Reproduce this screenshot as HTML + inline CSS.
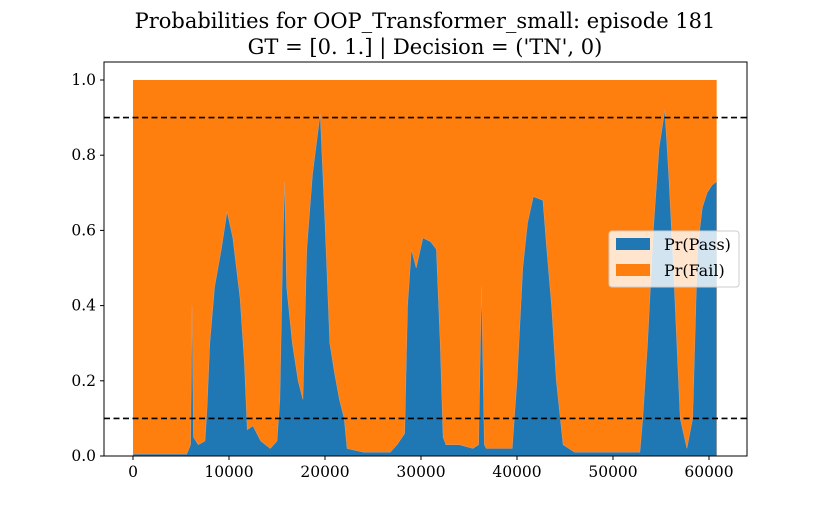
<!DOCTYPE html>
<html><head><meta charset="utf-8"><style>
html,body{margin:0;padding:0;background:#fff;}
svg text{font-family:"DejaVu Serif","Liberation Serif",serif;fill:#000;}
</style></head><body>
<svg id="chart" width="830" height="513" viewBox="0 0 830 513">
<text x="425" y="28" font-size="21" text-anchor="middle">Probabilities for OOP_Transformer_small: episode 181</text>
<text x="425" y="54" font-size="21" text-anchor="middle">GT = [0. 1.] | Decision = ('TN', 0)</text>
<g id="plot"></g>
</svg>
<script>
const steps = [0,5600,6000,6150,6300,6800,7500,7700,8000,8500,9200,9800,10400,11150,11600,11900,12500,13300,14300,15000,15300,15600,15800,16000,16600,17200,17700,18100,18700,19500,20000,20500,21000,21500,22000,22300,24000,26800,27500,28300,28600,29000,29500,30200,31000,31600,32000,32300,32600,34000,35400,36000,36300,36600,36800,38000,39500,40000,40600,41100,41700,42700,43100,43600,44100,44800,46000,50000,52800,53100,53600,54200,54800,55400,55800,56300,57000,57700,58300,58800,59300,59800,60300,60800];
const passProb = [0.005,0.005,0.03,0.40,0.05,0.03,0.04,0.12,0.30,0.45,0.55,0.65,0.58,0.42,0.25,0.07,0.08,0.04,0.02,0.04,0.15,0.55,0.73,0.45,0.30,0.20,0.15,0.55,0.75,0.91,0.62,0.30,0.22,0.15,0.10,0.02,0.01,0.01,0.03,0.06,0.40,0.55,0.50,0.58,0.57,0.55,0.30,0.05,0.03,0.03,0.02,0.03,0.45,0.03,0.02,0.02,0.02,0.2,0.5,0.62,0.69,0.68,0.55,0.40,0.2,0.03,0.01,0.01,0.01,0.1,0.3,0.6,0.82,0.92,0.75,0.5,0.1,0.02,0.1,0.55,0.66,0.70,0.72,0.73];
const yTicks = [0.0,0.2,0.4,0.6,0.8,1.0];
const xTicks = [0,10000,20000,30000,40000,50000,60000];
const thresholds = [0.9,0.1];

const L=104,R=747,T=62,B=456;
const xs = v => 133 + v*0.0096;
const ys = v => 456 - v*376;
const ns="http://www.w3.org/2000/svg";
const g=document.getElementById('plot');
function mk(tag,attrs){const e=document.createElementNS(ns,tag);for(const k in attrs)e.setAttribute(k,attrs[k]);g.appendChild(e);return e;}

let failPath = `M${xs(steps[0])},${ys(1)} L${xs(steps[steps.length-1])},${ys(1)} `;
for(let i=steps.length-1;i>=0;i--) failPath+=`L${xs(steps[i])},${ys(passProb[i])} `;
const fail=mk('path',{d:failPath+'Z',fill:'#ff7f0e'});


let passPath = `M${xs(steps[0])},${ys(0)} `;
for(let i=0;i<steps.length;i++) passPath+=`L${xs(steps[i])},${ys(passProb[i])} `;
passPath+=`L${xs(steps[steps.length-1])},${ys(0)} Z`;
const pass=mk('path',{d:passPath,fill:'#1f77b4',stroke:'#e8a070','stroke-width':'0.6','stroke-opacity':'0.6'});



thresholds.forEach(t=>{
 const l=mk('line',{x1:L,x2:R,y1:ys(t),y2:ys(t),stroke:'#000','stroke-width':1.6,'stroke-dasharray':'6,3.5'});
 
 
});

const frame=mk('rect',{x:L,y:T,width:R-L,height:B-T,fill:'none',stroke:'#000','stroke-width':1});



yTicks.forEach(v=>{
 const t=mk('line',{x1:L-4,x2:L,y1:ys(v),y2:ys(v),stroke:'#000'});
 
 
 const tx=mk('text',{x:L-8,y:ys(v)+5,'font-size':15.5,'text-anchor':'end'});
 tx.textContent=v.toFixed(1);
 
 
});
xTicks.forEach(v=>{
 const t=mk('line',{x1:xs(v),x2:xs(v),y1:B,y2:B+4,stroke:'#000'});
 
 
 const tx=mk('text',{x:xs(v),y:B+21,'font-size':15.5,'text-anchor':'middle'});
 tx.textContent=String(v);
 
 
});

const lg=mk('rect',{x:609,y:231,width:130,height:56,rx:3,fill:'#fff','fill-opacity':0.8,stroke:'#ccc'});


[['#1f77b4','Pr(Pass)',238],['#ff7f0e','Pr(Fail)',264]].forEach(([c,s,y])=>{
 const sw=mk('rect',{x:616,y:y,width:34,height:12,fill:c});
 
 
 const tx=mk('text',{x:664,y:y+12,'font-size':16});
 tx.textContent=s;
 
 
});
</script>
</body></html>
